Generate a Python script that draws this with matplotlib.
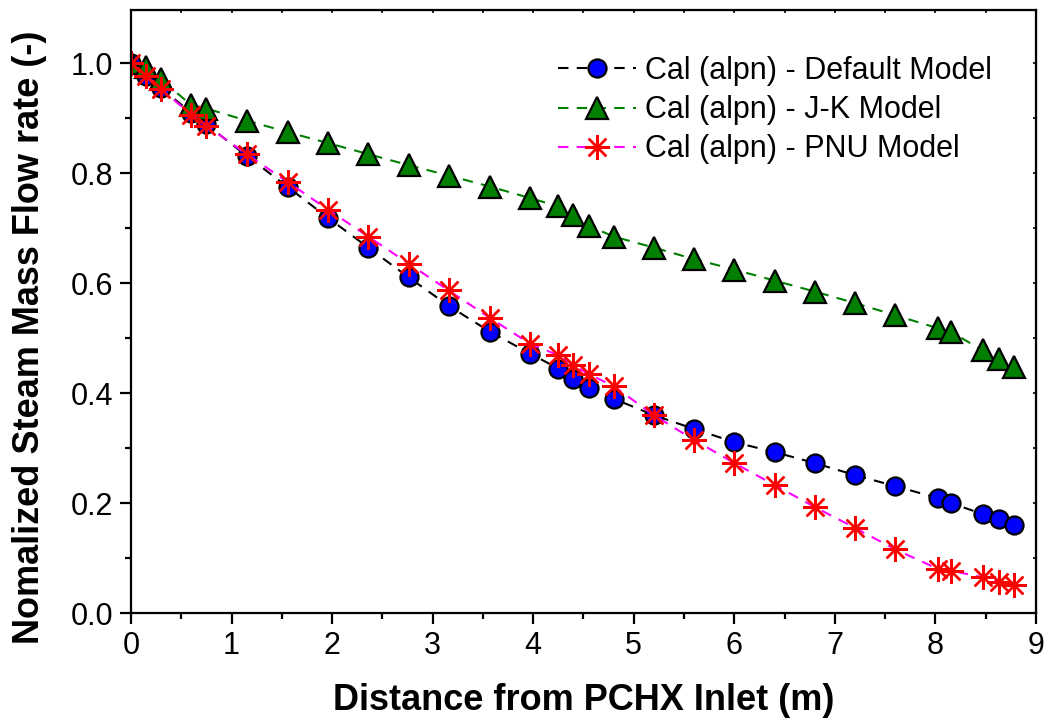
import numpy as np
import matplotlib
matplotlib.use("Agg")
import matplotlib.pyplot as plt
from matplotlib.ticker import MultipleLocator

plt.rcParams["font.family"] = ["Liberation Sans", "DejaVu Sans"]

# distance from inlet (m)
x = [0, 0.15, 0.30, 0.60, 0.75, 1.15, 1.56, 1.96, 2.36, 2.76, 3.16, 3.57, 3.97,
     4.25, 4.40, 4.55, 4.80, 5.20, 5.60, 6.00, 6.40, 6.80, 7.20, 7.60, 8.03,
     8.16, 8.47, 8.63, 8.78]

default_model = [1.000, 0.978, 0.955, 0.910, 0.889, 0.832, 0.775, 0.719, 0.665,
                 0.611, 0.559, 0.512, 0.472, 0.445, 0.425, 0.409, 0.390, 0.360,
                 0.335, 0.311, 0.293, 0.273, 0.251, 0.231, 0.209, 0.200, 0.180,
                 0.171, 0.160]

jk_model = [1.000, 0.994, 0.971, 0.924, 0.918, 0.896, 0.875, 0.855, 0.835,
            0.815, 0.796, 0.776, 0.755, 0.740, 0.725, 0.705, 0.685, 0.665,
            0.644, 0.625, 0.605, 0.585, 0.564, 0.542, 0.518, 0.511, 0.478,
            0.462, 0.447]

pnu_model = [1.000, 0.978, 0.953, 0.907, 0.887, 0.835, 0.784, 0.734, 0.685,
             0.636, 0.587, 0.537, 0.490, 0.469, 0.451, 0.435, 0.413, 0.360,
             0.315, 0.273, 0.233, 0.193, 0.155, 0.116, 0.080, 0.077, 0.065,
             0.057, 0.051]

fig = plt.figure(figsize=(10.48, 7.23), dpi=100)
ax = fig.add_axes([0.125, 0.152, 0.8635, 0.834])

dash = (0, (5, 4))
ax.plot(x, default_model, color="black", linestyle=dash, linewidth=1.5,
        marker="o", markersize=13, markerfacecolor="#0000FF",
        markeredgecolor="black", markeredgewidth=1.6,
        label="Cal (alpn) - Default Model")
ax.plot(x, jk_model, color="#008000", linestyle=dash, linewidth=1.5,
        marker="^", markersize=16, markerfacecolor="#007F00",
        markeredgecolor="black", markeredgewidth=1.6,
        label="Cal (alpn) - J-K Model")
ax.plot(x, pnu_model, color="#FF00FF", linestyle=dash, linewidth=1.5,
        marker=(8, 2, 0), markersize=18, markerfacecolor="red",
        markeredgecolor="red", markeredgewidth=1.7,
        label="Cal (alpn) - PNU Model")

ax.set_xlim(0, 9)
ax.set_ylim(0, 1.097)
ax.xaxis.set_major_locator(MultipleLocator(1))
ax.xaxis.set_minor_locator(MultipleLocator(0.5))
ax.set_yticks([0, 0.2, 0.4, 0.6, 0.8, 1.0])
ax.set_yticklabels(["0.0", "0.2", "0.4", "0.6", "0.8", "1.0"])
ax.yaxis.set_minor_locator(MultipleLocator(0.1))

for s in ax.spines.values():
    s.set_linewidth(1.6)
ax.tick_params(which="major", direction="out", length=8, width=1.6,
               labelsize=22, pad=5)
ax.tick_params(which="minor", direction="out", length=4.5, width=1.6)

# small ticks on the top and right frame
top = ax.secondary_xaxis("top")
top.xaxis.set_major_locator(MultipleLocator(1))
top.xaxis.set_minor_locator(MultipleLocator(0.5))
top.tick_params(which="both", direction="in", length=2.5, width=1.2,
                labeltop=False)
right = ax.secondary_yaxis("right")
right.yaxis.set_major_locator(MultipleLocator(0.2))
right.yaxis.set_minor_locator(MultipleLocator(0.1))
right.tick_params(which="both", direction="in", length=2.5, width=1.2,
                  labelright=False)

ax.set_xlabel("Distance from PCHX Inlet (m)", fontsize=26, fontweight="bold",
              labelpad=16)
ax.set_ylabel("Nomalized Steam Mass Flow rate (-)", fontsize=26,
              fontweight="bold")
ax.yaxis.set_label_coords(-0.093, 0.457)

ax.legend(loc="upper right", bbox_to_anchor=(0.965, 0.944), frameon=False,
          fontsize=22, handlelength=2.55, handletextpad=0.3, labelspacing=0.3,
          borderaxespad=0)

fig.savefig("out.png", dpi=100)
